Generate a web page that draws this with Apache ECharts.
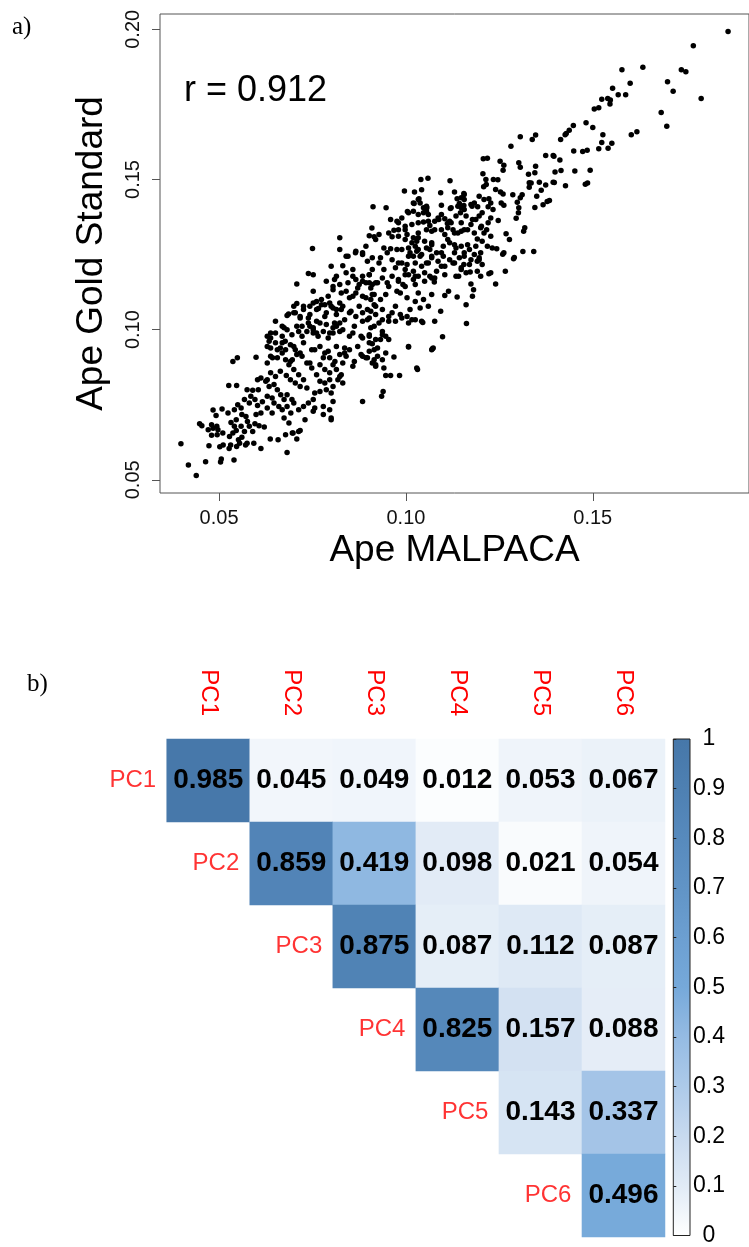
<!DOCTYPE html>
<html>
<head>
<meta charset="utf-8">
<script src="https://cdn.jsdelivr.net/npm/echarts@6/dist/echarts.min.js"></script>
<style>
  html, body { margin: 0; padding: 0; background: #fff; }
  #chart { width: 749px; height: 1247px; }
</style>
</head>
<body>
<div id="chart"></div>
<script>
// a) Ape MALPACA (x) vs Ape Gold Standard (y)
const apePoints = [
  [0.1862,0.1993],[0.1769,0.1945],[0.1578,0.1865],[0.1634,0.1874],[0.1737,0.1865],[0.1749,0.1859],[0.1700,0.1825],[0.1715,0.1794],[0.1790,0.1770],[0.1600,0.1820],
  [0.1553,0.1804],[0.1568,0.1782],[0.1588,0.1782],[0.1524,0.1767],[0.1540,0.1770],[0.1547,0.1765],[0.1546,0.1751],[0.1504,0.1735],[0.1516,0.1739],[0.1683,0.1723],
  [0.1698,0.1677],[0.1482,0.1689],[0.1500,0.1673],[0.1448,0.1680],[0.1437,0.1664],[0.1429,0.1653],[0.1426,0.1649],[0.1414,0.1633],[0.1527,0.1649],[0.1603,0.1649],
  [0.1618,0.1659],[0.1524,0.1623],[0.1551,0.1621],[0.1516,0.1602],[0.1541,0.1604],[0.1449,0.1595],[0.1473,0.1593],[0.1485,0.1597],[0.1396,0.1577],[0.1412,0.1565],
  [0.1399,0.1525],[0.1415,0.1530],[0.1452,0.1528],[0.1493,0.1531],[0.1397,0.1490],[0.1427,0.1479],[0.1480,0.1484],[0.1486,0.1488],
  [0.1281,0.1611],[0.1306,0.1642],[0.1338,0.1633],[0.1347,0.1648],[0.1207,0.1569],[0.1218,0.1571],[0.1252,0.1561],[0.1262,0.1547],[0.1260,0.1531],[0.1302,0.1556],
  [0.1306,0.1541],[0.1347,0.1544],[0.1374,0.1580],[0.1394,0.1580],[0.1206,0.1519],[0.1328,0.1517],[0.1345,0.1522],[0.1040,0.1500],[0.1059,0.1504],[0.1118,0.1496],
  [0.1214,0.1500],[0.1234,0.1500],[0.1246,0.1499],[0.1330,0.1489],[0.1357,0.1491],[0.1374,0.1482],[0.1394,0.1491],[0.0996,0.1462],[0.1023,0.1458],[0.1042,0.1466],
  [0.1093,0.1456],[0.1130,0.1458],[0.1155,0.1453],[0.1208,0.1476],[0.1215,0.1483],[0.1240,0.1467],[0.1253,0.1458],[0.1260,0.1452],[0.1286,0.1449],[0.1311,0.1449],
  [0.1330,0.1474],[0.1335,0.1488],[0.1350,0.1444],[0.1362,0.1464],[0.1367,0.1416],[0.1378,0.1427],[0.1384,0.1430],[0.1345,0.1407],[0.0912,0.1409],[0.0947,0.1406],
  [0.1022,0.1420],[0.1035,0.1436],[0.1038,0.1422],[0.1056,0.1406],[0.1095,0.1414],[0.1119,0.1403],[0.1137,0.1436],[0.1156,0.1433],[0.1143,0.1420],[0.1155,0.1413],
  [0.1148,0.1406],[0.1177,0.1411],[0.1196,0.1444],[0.1183,0.1422],[0.1192,0.1409],[0.1222,0.1436],[0.1227,0.1422],[0.1220,0.1409],[0.1233,0.1400],[0.1255,0.1422],
  [0.1262,0.1414],[0.1298,0.1424],[0.1306,0.1439],[0.1302,0.1406],[0.1301,0.1389],[0.1295,0.1371],[0.1318,0.1339],[0.1315,0.1328],[0.1268,0.1319],[0.1277,0.1300],
  [0.1313,0.1260],[0.1342,0.1260],[0.1259,0.1251],[0.1290,0.1240],[0.1247,0.1363],[0.0959,0.1367],[0.0976,0.1361],[0.0989,0.1372],[0.1004,0.1393],[0.0909,0.1338],
  [0.0902,0.1313],[0.0915,0.1309],[0.0928,0.1317],[0.0919,0.1300],[0.0954,0.1322],[0.0963,0.1309],[0.0968,0.1331],[0.0980,0.1333],[0.0998,0.1333],[0.1003,0.1317],
  [0.1020,0.1306],[0.1029,0.1294],[0.1033,0.1322],[0.1047,0.1358],[0.1060,0.1361],[0.1055,0.1333],[0.1069,0.1328],[0.1077,0.1333],[0.1088,0.1367],[0.1095,0.1383],
  [0.1104,0.1369],[0.1111,0.1353],[0.1121,0.1356],[0.1134,0.1378],[0.1146,0.1389],[0.1156,0.1400],[0.1126,0.1333],[0.1139,0.1322],[0.1156,0.1333],[0.1174,0.1350],
  [0.1104,0.1317],[0.1112,0.1300],[0.1130,0.1283],[0.1148,0.1278],[0.1165,0.1283],[0.1187,0.1367],[0.1196,0.1378],[0.1202,0.1344],[0.1209,0.1322],[0.1216,0.1333],
  [0.1220,0.1356],[0.1183,0.1322],[0.1191,0.1302],[0.1204,0.1294],[0.1218,0.1278],[0.1231,0.1272],[0.1243,0.1269],[0.1069,0.1289],[0.1055,0.1272],[0.1033,0.1267],
  [0.1025,0.1278],[0.1007,0.1272],[0.0976,0.1267],[0.0959,0.1269],[0.0941,0.1272],[0.0950,0.1256],[0.0932,0.1239],[0.0910,0.1239],[0.1020,0.1244],[0.1042,0.1250],
  [0.1069,0.1239],[0.1100,0.1244],[0.1130,0.1256],[0.1156,0.1244],[0.1183,0.1250],[0.1196,0.1239],
  [0.1288,0.1236],[0.1266,0.1194],[0.1240,0.1152],[0.1222,0.1186],[0.1200,0.1178],[0.1172,0.1192],[0.1174,0.1152],[0.1181,0.1133],[0.1178,0.1111],[0.1161,0.1083],
  [0.1162,0.1020],[0.1155,0.1217],[0.1148,0.1200],[0.1141,0.1178],[0.1137,0.1109],[0.1104,0.1114],[0.1114,0.1128],[0.1093,0.1061],[0.1077,0.1028],[0.1098,0.0976],
  [0.1071,0.0936],[0.1069,0.1117],[0.1076,0.1159],[0.1069,0.1172],[0.1082,0.1194],[0.1095,0.1211],[0.1047,0.1100],[0.1060,0.1078],[0.1045,0.1024],[0.1031,0.0867],
  [0.1007,0.0942],[0.1033,0.1122],[0.1025,0.1150],[0.1011,0.1067],[0.1016,0.1033],[0.1003,0.1044],[0.0985,0.1050],[0.1020,0.1167],[0.1007,0.1183],[0.0992,0.1150],
  [0.0980,0.1161],[0.0985,0.1122],[0.1003,0.1106],[0.0972,0.1078],[0.0963,0.1056],[0.0954,0.1028],[0.0968,0.0909],[0.0941,0.0872],[0.0946,0.0847],[0.0959,0.0847],
  [0.0983,0.0847],[0.0935,0.0778],[0.0939,0.0794],[0.0919,0.0878],[0.0915,0.0900],[0.0897,0.0906],[0.0924,0.0939],[0.0932,0.0967],[0.0946,0.0978],[0.0954,0.0967],
  [0.0937,0.0994],[0.0928,0.1022],[0.0910,0.0953],[0.0915,0.1011],[0.0902,0.0978],[0.0897,0.1033],[0.0919,0.1078],[0.0906,0.1061],[0.0937,0.1067],[0.0932,0.1100],
  [0.0946,0.1117],[0.0915,0.1117],[0.0902,0.1156],[0.0924,0.1156],[0.0937,0.1172],[0.0954,0.1144],[0.0941,0.1200],[0.0972,0.1206],[0.0989,0.1222],[0.0963,0.1233],
  [0.0928,0.1222],[0.0910,0.1200],[0.0902,0.1183],[0.0998,0.1200],[0.1025,0.1222],[0.1020,0.1194],[0.1007,0.1244],[0.1038,0.1244],[0.1055,0.1222],[0.1069,0.1244],
  [0.1095,0.1256],[0.1117,0.1233],[0.1130,0.1222],[0.1143,0.1239],[0.1156,0.1256],[0.1174,0.1233],[0.1191,0.1228],[0.1200,0.1256],[0.0998,0.1144],[0.0976,0.1128],
  [0.1025,0.1094],[0.1038,0.1072],[0.1204,0.1217],[0.1196,0.1233],
  [0.0398,0.0620],[0.0418,0.0549],[0.0439,0.0514],[0.0464,0.0560],[0.0504,0.0559],[0.0506,0.0569],[0.0540,0.0566],[0.0473,0.0613],[0.0502,0.0610],[0.0511,0.0616],
  [0.0527,0.0604],[0.0531,0.0616],[0.0547,0.0611],[0.0555,0.0622],[0.0571,0.0616],[0.0575,0.0622],[0.0593,0.0622],[0.0612,0.0604],[0.0682,0.0591],[0.0480,0.0648],
  [0.0495,0.0650],[0.0510,0.0656],[0.0497,0.0667],[0.0484,0.0672],[0.0471,0.0667],[0.0448,0.0687],[0.0454,0.0680],[0.0480,0.0683],[0.0494,0.0678],[0.0528,0.0644],
  [0.0537,0.0656],[0.0546,0.0664],[0.0541,0.0678],[0.0532,0.0691],[0.0546,0.0700],[0.0559,0.0678],[0.0561,0.0642],[0.0552,0.0633],[0.0568,0.0661],[0.0581,0.0678],
  [0.0590,0.0661],[0.0576,0.0694],[0.0572,0.0711],[0.0561,0.0717],[0.0596,0.0687],[0.0607,0.0680],[0.0621,0.0676],[0.0637,0.0636],[0.0658,0.0633],[0.0678,0.0650],
  [0.0696,0.0656],[0.0708,0.0636],[0.0717,0.0664],[0.0484,0.0732],[0.0492,0.0714],[0.0508,0.0736],[0.0524,0.0722],[0.0541,0.0733],[0.0550,0.0750],[0.0559,0.0739],
  [0.0568,0.0767],[0.0581,0.0756],[0.0585,0.0778],[0.0596,0.0767],[0.0603,0.0747],[0.0616,0.0760],[0.0629,0.0739],[0.0642,0.0722],[0.0612,0.0722],[0.0599,0.0717],
  [0.0575,0.0800],[0.0590,0.0798],[0.0605,0.0800],[0.0526,0.0814],[0.0547,0.0814],[0.0537,0.0894],[0.0549,0.0906],[0.0599,0.0908],[0.0603,0.0833],[0.0612,0.0839],
  [0.0625,0.0828],[0.0634,0.0811],[0.0647,0.0817],[0.0656,0.0800],[0.0665,0.0783],[0.0674,0.0767],[0.0682,0.0783],[0.0695,0.0767],[0.0629,0.0778],[0.0642,0.0772],
  [0.0647,0.0756],[0.0660,0.0744],[0.0669,0.0733],[0.0682,0.0744],[0.0692,0.0722],[0.0700,0.0756],[0.0713,0.0733],[0.0726,0.0744],[0.0739,0.0756],[0.0752,0.0767],
  [0.0756,0.0739],[0.0779,0.0744],[0.0796,0.0733],[0.0805,0.0761],[0.0800,0.0789],[0.0787,0.0800],[0.0770,0.0794],[0.0756,0.0789],[0.0674,0.0706],[0.0687,0.0689],
  [0.0698,0.0656],[0.0713,0.0661],[0.0730,0.0700],[0.0752,0.0728],[0.0779,0.0717],[0.0800,0.0706],[0.0629,0.0833],[0.0638,0.0856],[0.0651,0.0844],[0.0664,0.0861],
  [0.0680,0.0847],[0.0691,0.0833],[0.0704,0.0822],[0.0717,0.0811],[0.0735,0.0806],[0.0726,0.0833],[0.0713,0.0850],[0.0700,0.0867],[0.0687,0.0883],[0.0696,0.0900],
  [0.0708,0.0917],[0.0722,0.0911],[0.0735,0.0889],[0.0748,0.0872],[0.0761,0.0850],[0.0770,0.0828],[0.0783,0.0822],[0.0796,0.0833],[0.0805,0.0811],[0.0818,0.0833],
  [0.0831,0.0822],[0.0629,0.0889],[0.0638,0.0911],[0.0656,0.0906],[0.0669,0.0922],[0.0678,0.0900],[0.0638,0.0939],[0.0651,0.0956],[0.0664,0.0939],[0.0678,0.0933],
  [0.0691,0.0950],[0.0704,0.0933],[0.0717,0.0922],[0.0629,0.0978],[0.0634,0.0961],[0.0651,0.0989],[0.0669,0.0978],[0.0682,0.1000],[0.0695,0.0983],[0.0713,0.0994],
  [0.0722,0.0978],[0.0735,0.0994],[0.0752,0.0989],[0.0765,0.0978],[0.0779,0.0994],[0.0792,0.0972],[0.0805,0.0989],[0.0823,0.0994],[0.0651,0.1028],[0.0674,0.1006],
  [0.0682,0.1047],[0.0704,0.1056],[0.0717,0.1039],[0.0726,0.1067],[0.0743,0.1050],[0.0761,0.1067],[0.0774,0.1083],[0.0787,0.1056],[0.0800,0.1078],[0.0814,0.1050],
  [0.0827,0.1067],[0.0722,0.1011],[0.0739,0.1022],[0.0752,0.1006],[0.0770,0.1022],[0.0787,0.1017],[0.0805,0.1006],[0.0823,0.1022],[0.0708,0.1087],[0.0752,0.1089],
  [0.0823,0.1089],[0.0756,0.0933],[0.0770,0.0944],[0.0783,0.0922],[0.0796,0.0906],[0.0810,0.0894],[0.0823,0.0917],[0.0836,0.0939],[0.0770,0.0883],[0.0783,0.0867],
  [0.0796,0.0856],[0.0814,0.0867],[0.0827,0.0850],[0.0831,0.0889],
  [0.0739,0.1187],[0.0752,0.1183],[0.0708,0.1152],[0.0800,0.1211],[0.0831,0.1213],[0.0840,0.1244],[0.0865,0.1256],[0.0884,0.1250],[0.0897,0.1228],[0.0787,0.1161],
  [0.0809,0.1167],[0.0823,0.1150],[0.0845,0.1156],[0.0858,0.1178],[0.0871,0.1139],[0.0884,0.1161],[0.0902,0.1183],[0.0910,0.1150],[0.0752,0.1128],[0.0774,0.1100],
  [0.0792,0.1111],[0.0805,0.1133],[0.0827,0.1122],[0.0849,0.1106],[0.0866,0.1122],[0.0884,0.1111],[0.0906,0.1100],[0.0743,0.1078],[0.0766,0.1070],[0.0783,0.1083],
  [0.0805,0.1072],[0.0831,0.1078],[0.0853,0.1061],[0.0875,0.1078],[0.0897,0.1067],[0.0915,0.1083],[0.0686,0.1052],[0.0700,0.1078],[0.0717,0.1044],[0.0739,0.1039],
  [0.0761,0.1028],[0.0783,0.1044],[0.0809,0.1022],[0.0836,0.1033],[0.0862,0.1011],[0.0884,0.1028],[0.0906,0.1006],[0.0831,0.1000],[0.0858,0.0989],[0.0880,0.0978],
  [0.0902,0.0956],[0.0915,0.0933],[0.0752,0.1000],[0.0871,0.0944],[0.0849,0.0933],[0.0840,0.0911],[0.0862,0.0894],[0.0884,0.0911],[0.0814,0.0944],[0.0823,0.0844],
  [0.0884,0.0761],[0.0893,0.0906],[0.0910,0.0889],[0.0919,0.0883],[0.0800,0.0700],[0.0669,0.1011],[0.0638,0.0972],[0.0629,0.0944],[0.0656,0.0933],[0.0669,0.0956],
  [0.1020,0.1394],[0.1033,0.1383],[0.1047,0.1389],[0.1055,0.1394],[0.0823,0.1306],[0.0823,0.1267],[0.0750,0.1270],[0.0845,0.1244],[0.0866,0.1261],[0.0884,0.1256],
  [0.0893,0.1278],[0.0814,0.1178],[0.0840,0.1189],[0.0858,0.1200],[0.0866,0.1167],[0.0884,0.1178],[0.0875,0.1150],[0.0893,0.1156],[0.0906,0.1139],[0.0919,0.1156],
  [0.0950,0.1156],[0.0963,0.1178],[0.0980,0.1167],[0.0998,0.1183],[0.1033,0.1178],[0.1050,0.1161],[0.1064,0.1178],[0.0805,0.1144],[0.0840,0.1128],[0.0858,0.1111],
  [0.0893,0.1106],[0.0910,0.1117],[0.0726,0.1078],[0.0761,0.1094],[0.0796,0.1089],[0.0814,0.1067],[0.0849,0.1056],[0.0866,0.1044],[0.0884,0.1056],[0.0902,0.1039],
  [0.0919,0.1050],[0.0937,0.1033],[0.0954,0.1044],[0.0972,0.1028],[0.0989,0.1039],[0.1007,0.1022],[0.1025,0.1033],[0.1042,0.1028],[0.1073,0.0939],[0.0700,0.1056],
  [0.0708,0.1011],[0.0743,0.1011],[0.0761,0.0989],[0.0796,0.0989],[0.0814,0.1011],[0.0849,0.0978],[0.0884,0.0972],[0.0902,0.0983],[0.0919,0.0967],[0.0937,0.0983],
  [0.1007,0.0944],[0.1029,0.0872],[0.1069,0.0933],[0.0638,0.0989],[0.0677,0.0961],[0.0700,0.0944],[0.0726,0.0956],[0.0748,0.0933],[0.0792,0.0928],[0.0836,0.0922],
  [0.0880,0.0917],[0.0902,0.0928],[0.0924,0.0911],[0.0946,0.0922],[0.0643,0.0906],[0.0691,0.0894],[0.0743,0.0889],[0.0779,0.0906],[0.0805,0.0883],[0.0858,0.0878],
  [0.0937,0.0900],
  [0.1020,0.1422],[0.1033,0.1433],[0.1047,0.1406],[0.1055,0.1411],[0.1007,0.1389],[0.1060,0.1383],[0.0980,0.1356],[0.0998,0.1344],[0.1016,0.1350],[0.1033,0.1356],
  [0.1064,0.1347],[0.1077,0.1361],[0.1148,0.1439],[0.1156,0.1450],[0.1139,0.1411],[0.1121,0.1406],[0.1174,0.1417],[0.1209,0.1433],[0.1086,0.1372],[0.1117,0.1361],
  [0.1148,0.1356],[0.1161,0.1378],[0.1178,0.1367],[0.1204,0.1389],[0.1227,0.1372],[0.1095,0.1333],[0.1112,0.1339],[0.1130,0.1322],[0.1148,0.1328],[0.1165,0.1333],
  [0.1200,0.1339],[0.1227,0.1311],[0.0980,0.1311],[0.0998,0.1300],[0.1016,0.1289],[0.1033,0.1306],[0.1050,0.1294],[0.1069,0.1283],[0.0989,0.1267],[0.1011,0.1256],
  [0.1029,0.1261],[0.1064,0.1267],[0.1082,0.1256],[0.1100,0.1278],[0.1117,0.1289],[0.1134,0.1272],[0.1170,0.1267],[0.1187,0.1278],[0.0980,0.1222],[0.1003,0.1217],
  [0.1042,0.1211],[0.1060,0.1222],[0.1086,0.1228],[0.1104,0.1211],[0.1126,0.1222],[0.1148,0.1206],[0.1170,0.1217],[0.1191,0.1194],[0.1025,0.1178],[0.1050,0.1189],
  [0.1077,0.1172],[0.1104,0.1183],[0.1134,0.1178],[0.1161,0.1189],[0.1227,0.1189],[0.1262,0.1256]
]
const xTicks = [0.05, 0.10, 0.15]
const yTicks = [0.05, 0.10, 0.15, 0.20]
const rValue = '0.912'

// b) correlation matrix, upper triangle, row by row from the diagonal
const pcNames = ['PC1', 'PC2', 'PC3', 'PC4', 'PC5', 'PC6']
const corrRows = [
  [0.985, 0.045, 0.049, 0.012, 0.053, 0.067],
  [0.859, 0.419, 0.098, 0.021, 0.054],
  [0.875, 0.087, 0.112, 0.087],
  [0.825, 0.157, 0.088],
  [0.143, 0.337],
  [0.496]
]

const blues = ['#FFFFFF', '#E1EBF6', '#C8DAEF', '#ADCAE9', '#95BBE3', '#76A9DA',
  '#6C9FD1', '#6194C6', '#578ABD', '#4E80B2', '#4677A9']

const FONT = '"Liberation Sans", Arial, sans-serif'
const SERIF = '"Liberation Serif", "Times New Roman", serif'

const heatData = []
corrRows.forEach((row, i) => {
  row.forEach((v, k) => heatData.push([i + k + 1, i, v]))
})

const barGradient = {
  type: 'linear', x: 0, y: 1, x2: 0, y2: 0,
  colorStops: blues.map((c, i) => ({ offset: i / (blues.length - 1), color: c }))
}

const chart = echarts.init(document.getElementById('chart'))

const option = {
  animation: false,
  backgroundColor: '#fff',
  grid: [
    { left: 160, top: 14, width: 598, height: 479, show: true, borderColor: '#555', borderWidth: 1 },
    { left: 83.65, top: 739, width: 581.35, height: 498 },
    { left: 673.3, top: 739, width: 16.7, height: 498, show: true, borderColor: '#222', borderWidth: 1, backgroundColor: barGradient }
  ],
  xAxis: [
    {
      gridIndex: 0, type: 'value', min: 0.0342, max: 0.1918,
      axisLine: { show: false }, splitLine: { show: false },
      axisTick: { show: true, length: 8, customValues: xTicks, lineStyle: { color: '#555' } },
      axisLabel: { customValues: xTicks, formatter: v => v.toFixed(2), fontSize: 20, color: '#111', margin: 15, fontFamily: FONT },
      name: 'Ape MALPACA', nameLocation: 'middle', nameGap: 39,
      nameTextStyle: { fontSize: 37, color: '#000', fontFamily: FONT }
    },
    {
      gridIndex: 1, type: 'category', data: [''].concat(pcNames), position: 'top',
      axisLine: { show: false }, axisTick: { show: false }, splitLine: { show: false },
      axisLabel: { rotate: 90, margin: 23, interval: 0, color: '#FF0000', fontSize: 24, fontFamily: FONT }
    },
    { gridIndex: 2, type: 'value', min: 0, max: 1, show: false }
  ],
  yAxis: [
    {
      gridIndex: 0, type: 'value', min: 0.0456, max: 0.2051,
      axisLine: { show: false }, splitLine: { show: false },
      axisTick: { show: true, length: 8, customValues: yTicks, lineStyle: { color: '#555' } },
      axisLabel: { customValues: yTicks, rotate: 90, formatter: v => v.toFixed(2), fontSize: 20, color: '#111', margin: 17, fontFamily: FONT },
      name: 'Ape Gold Standard', nameLocation: 'middle', nameGap: 50,
      nameTextStyle: { fontSize: 37, color: '#000', fontFamily: FONT }
    },
    { gridIndex: 1, type: 'category', data: pcNames, inverse: true, show: false },
    {
      gridIndex: 2, type: 'value', position: 'right', min: 0, max: 1, interval: 0.1,
      axisLine: { show: false }, splitLine: { show: false },
      axisTick: { show: true, length: 3, lineStyle: { color: '#222' } },
      axisLabel: {
        margin: 19, align: 'center', fontSize: 23, color: '#000', fontFamily: FONT,
        formatter: v => {
          const s = v.toFixed(1)
          return s === '0.0' ? '0' : s === '1.0' ? '1' : s
        }
      }
    }
  ],
  visualMap: {
    show: false, type: 'continuous', min: 0, max: 1, dimension: 2, seriesIndex: 1,
    inRange: { color: blues }
  },
  series: [
    {
      type: 'scatter', xAxisIndex: 0, yAxisIndex: 0, data: apePoints,
      symbolSize: 5.5, itemStyle: { color: '#000', opacity: 1 }, silent: true
    },
    {
      type: 'heatmap', xAxisIndex: 1, yAxisIndex: 1, data: heatData,
      itemStyle: { borderWidth: 0 },
      label: {
        show: true, formatter: p => p.value[2].toFixed(3),
        fontSize: 28, fontWeight: 'bold', color: '#000', fontFamily: FONT
      }
    },
    {
      // row names sit just left of the diagonal cell
      type: 'scatter', xAxisIndex: 1, yAxisIndex: 1,
      data: pcNames.map((n, i) => [i, i]),
      symbolSize: 1, itemStyle: { color: 'rgba(0,0,0,0)' }, silent: true,
      label: {
        show: true, position: 'inside', align: 'right', offset: [31, 0],
        formatter: p => pcNames[p.dataIndex],
        color: '#FF0000', fontSize: 24, fontFamily: FONT
      }
    }
  ],
  graphic: [
    { type: 'text', x: 12, y: 27, style: { text: 'a)', fontSize: 25, fontFamily: SERIF, fill: '#000', verticalAlign: 'middle' } },
    { type: 'text', x: 27, y: 684, style: { text: 'b)', fontSize: 25, fontFamily: SERIF, fill: '#000', verticalAlign: 'middle' } },
    { type: 'text', x: 184, y: 91, style: { text: 'r = ' + rValue, fontSize: 36, fontFamily: FONT, fill: '#000', verticalAlign: 'middle' } }
  ]
}

chart.setOption(option)
</script>
</body>
</html>
